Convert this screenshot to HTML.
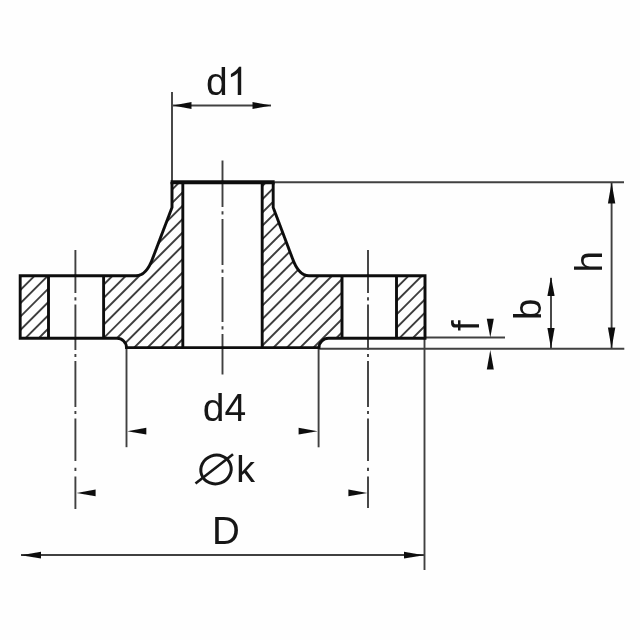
<!DOCTYPE html>
<html><head><meta charset="utf-8"><title>Flange</title>
<style>
html,body{margin:0;padding:0;background:#fefefe;}
body{width:640px;height:640px;overflow:hidden;font-family:"Liberation Sans",sans-serif;}
svg{display:block;}
</style></head><body>
<svg width="640" height="640" viewBox="0 0 640 640">
<defs>
<clipPath id="c1"><path d="M20.2 275.7H48.5V338.3H20.2Z"/></clipPath>
<clipPath id="c2"><path d="M396.5 275.7H425.0V338.3H396.5Z"/></clipPath>
<clipPath id="c3"><path d="M103.6 275.7H136 Q146.5 275.7 152.8 258 L172.0 207.5 V182.0 H182.8 V347.6 H126.5 A9.5 9.5 0 0 0 117 338.3 H103.6Z"/></clipPath>
<clipPath id="c4"><path d="M342.0 275.7H309 Q298.5 275.7 292.3 258 L273.2 207.5 V182.0 H262.2 V347.6 H319 A9.5 9.5 0 0 1 328.5 338.3 H342.0Z"/></clipPath>
<filter id="soft" x="0" y="0" width="640" height="640" filterUnits="userSpaceOnUse"><feGaussianBlur stdDeviation="0.7"/></filter>
</defs>
<rect width="640" height="640" fill="#fefefe"/>
<g filter="url(#soft)">
<path clip-path="url(#c1)" d="M-708.80 700L-8.80 0M-695.50 700L4.50 0M-682.20 700L17.80 0M-668.90 700L31.10 0M-655.60 700L44.40 0M-642.30 700L57.70 0M-629.00 700L71.00 0M-615.70 700L84.30 0M-602.40 700L97.60 0M-589.10 700L110.90 0M-575.80 700L124.20 0M-562.50 700L137.50 0M-549.20 700L150.80 0M-535.90 700L164.10 0M-522.60 700L177.40 0M-509.30 700L190.70 0M-496.00 700L204.00 0M-482.70 700L217.30 0M-469.40 700L230.60 0M-456.10 700L243.90 0M-442.80 700L257.20 0M-429.50 700L270.50 0M-416.20 700L283.80 0M-402.90 700L297.10 0M-389.60 700L310.40 0M-376.30 700L323.70 0M-363.00 700L337.00 0M-349.70 700L350.30 0M-336.40 700L363.60 0M-323.10 700L376.90 0M-309.80 700L390.20 0M-296.50 700L403.50 0M-283.20 700L416.80 0M-269.90 700L430.10 0M-256.60 700L443.40 0M-243.30 700L456.70 0M-230.00 700L470.00 0M-216.70 700L483.30 0M-203.40 700L496.60 0M-190.10 700L509.90 0M-176.80 700L523.20 0M-163.50 700L536.50 0M-150.20 700L549.80 0M-136.90 700L563.10 0M-123.60 700L576.40 0M-110.30 700L589.70 0M-97.00 700L603.00 0M-83.70 700L616.30 0M-70.40 700L629.60 0M-57.10 700L642.90 0M-43.80 700L656.20 0M-30.50 700L669.50 0M-17.20 700L682.80 0M-3.90 700L696.10 0M9.40 700L709.40 0M22.70 700L722.70 0M36.00 700L736.00 0M49.30 700L749.30 0M62.60 700L762.60 0M75.90 700L775.90 0M89.20 700L789.20 0M102.50 700L802.50 0M115.80 700L815.80 0M129.10 700L829.10 0M142.40 700L842.40 0M155.70 700L855.70 0M169.00 700L869.00 0M182.30 700L882.30 0M195.60 700L895.60 0M208.90 700L908.90 0M222.20 700L922.20 0M235.50 700L935.50 0M248.80 700L948.80 0M262.10 700L962.10 0M275.40 700L975.40 0M288.70 700L988.70 0M302.00 700L1002.00 0M315.30 700L1015.30 0M328.60 700L1028.60 0M341.90 700L1041.90 0M355.20 700L1055.20 0M368.50 700L1068.50 0M381.80 700L1081.80 0M395.10 700L1095.10 0M408.40 700L1108.40 0M421.70 700L1121.70 0M435.00 700L1135.00 0M448.30 700L1148.30 0M461.60 700L1161.60 0M474.90 700L1174.90 0M488.20 700L1188.20 0M501.50 700L1201.50 0M514.80 700L1214.80 0M528.10 700L1228.10 0M541.40 700L1241.40 0M554.70 700L1254.70 0M568.00 700L1268.00 0M581.30 700L1281.30 0M594.60 700L1294.60 0" stroke="#3c3c3c" stroke-width="1.9" fill="none"/>
<path clip-path="url(#c3)" d="M-712.15 700L-12.15 0M-698.80 700L1.20 0M-685.45 700L14.55 0M-672.10 700L27.90 0M-658.75 700L41.25 0M-645.40 700L54.60 0M-632.05 700L67.95 0M-618.70 700L81.30 0M-605.35 700L94.65 0M-592.00 700L108.00 0M-578.65 700L121.35 0M-565.30 700L134.70 0M-551.95 700L148.05 0M-538.60 700L161.40 0M-525.25 700L174.75 0M-511.90 700L188.10 0M-498.55 700L201.45 0M-485.20 700L214.80 0M-471.85 700L228.15 0M-458.50 700L241.50 0M-445.15 700L254.85 0M-431.80 700L268.20 0M-418.45 700L281.55 0M-405.10 700L294.90 0M-391.75 700L308.25 0M-378.40 700L321.60 0M-365.05 700L334.95 0M-351.70 700L348.30 0M-338.35 700L361.65 0M-325.00 700L375.00 0M-311.65 700L388.35 0M-298.30 700L401.70 0M-284.95 700L415.05 0M-271.60 700L428.40 0M-258.25 700L441.75 0M-244.90 700L455.10 0M-231.55 700L468.45 0M-218.20 700L481.80 0M-204.85 700L495.15 0M-191.50 700L508.50 0M-178.15 700L521.85 0M-164.80 700L535.20 0M-151.45 700L548.55 0M-138.10 700L561.90 0M-124.75 700L575.25 0M-111.40 700L588.60 0M-98.05 700L601.95 0M-84.70 700L615.30 0M-71.35 700L628.65 0M-58.00 700L642.00 0M-44.65 700L655.35 0M-31.30 700L668.70 0M-17.95 700L682.05 0M-4.60 700L695.40 0M8.75 700L708.75 0M22.10 700L722.10 0M35.45 700L735.45 0M48.80 700L748.80 0M62.15 700L762.15 0M75.50 700L775.50 0M88.85 700L788.85 0M102.20 700L802.20 0M115.55 700L815.55 0M128.90 700L828.90 0M142.25 700L842.25 0M155.60 700L855.60 0M168.95 700L868.95 0M182.30 700L882.30 0M195.65 700L895.65 0M209.00 700L909.00 0M222.35 700L922.35 0M235.70 700L935.70 0M249.05 700L949.05 0M262.40 700L962.40 0M275.75 700L975.75 0M289.10 700L989.10 0M302.45 700L1002.45 0M315.80 700L1015.80 0M329.15 700L1029.15 0M342.50 700L1042.50 0M355.85 700L1055.85 0M369.20 700L1069.20 0M382.55 700L1082.55 0M395.90 700L1095.90 0M409.25 700L1109.25 0M422.60 700L1122.60 0M435.95 700L1135.95 0M449.30 700L1149.30 0M462.65 700L1162.65 0M476.00 700L1176.00 0M489.35 700L1189.35 0M502.70 700L1202.70 0M516.05 700L1216.05 0M529.40 700L1229.40 0M542.75 700L1242.75 0M556.10 700L1256.10 0M569.45 700L1269.45 0M582.80 700L1282.80 0M596.15 700L1296.15 0" stroke="#3c3c3c" stroke-width="1.9" fill="none"/>
<path clip-path="url(#c4)" d="M-703.90 700L-3.90 0M-690.60 700L9.40 0M-677.30 700L22.70 0M-664.00 700L36.00 0M-650.70 700L49.30 0M-637.40 700L62.60 0M-624.10 700L75.90 0M-610.80 700L89.20 0M-597.50 700L102.50 0M-584.20 700L115.80 0M-570.90 700L129.10 0M-557.60 700L142.40 0M-544.30 700L155.70 0M-531.00 700L169.00 0M-517.70 700L182.30 0M-504.40 700L195.60 0M-491.10 700L208.90 0M-477.80 700L222.20 0M-464.50 700L235.50 0M-451.20 700L248.80 0M-437.90 700L262.10 0M-424.60 700L275.40 0M-411.30 700L288.70 0M-398.00 700L302.00 0M-384.70 700L315.30 0M-371.40 700L328.60 0M-358.10 700L341.90 0M-344.80 700L355.20 0M-331.50 700L368.50 0M-318.20 700L381.80 0M-304.90 700L395.10 0M-291.60 700L408.40 0M-278.30 700L421.70 0M-265.00 700L435.00 0M-251.70 700L448.30 0M-238.40 700L461.60 0M-225.10 700L474.90 0M-211.80 700L488.20 0M-198.50 700L501.50 0M-185.20 700L514.80 0M-171.90 700L528.10 0M-158.60 700L541.40 0M-145.30 700L554.70 0M-132.00 700L568.00 0M-118.70 700L581.30 0M-105.40 700L594.60 0M-92.10 700L607.90 0M-78.80 700L621.20 0M-65.50 700L634.50 0M-52.20 700L647.80 0M-38.90 700L661.10 0M-25.60 700L674.40 0M-12.30 700L687.70 0M1.00 700L701.00 0M14.30 700L714.30 0M27.60 700L727.60 0M40.90 700L740.90 0M54.20 700L754.20 0M67.50 700L767.50 0M80.80 700L780.80 0M94.10 700L794.10 0M107.40 700L807.40 0M120.70 700L820.70 0M134.00 700L834.00 0M147.30 700L847.30 0M160.60 700L860.60 0M173.90 700L873.90 0M187.20 700L887.20 0M200.50 700L900.50 0M213.80 700L913.80 0M227.10 700L927.10 0M240.40 700L940.40 0M253.70 700L953.70 0M267.00 700L967.00 0M280.30 700L980.30 0M293.60 700L993.60 0M306.90 700L1006.90 0M320.20 700L1020.20 0M333.50 700L1033.50 0M346.80 700L1046.80 0M360.10 700L1060.10 0M373.40 700L1073.40 0M386.70 700L1086.70 0M400.00 700L1100.00 0M413.30 700L1113.30 0M426.60 700L1126.60 0M439.90 700L1139.90 0M453.20 700L1153.20 0M466.50 700L1166.50 0M479.80 700L1179.80 0M493.10 700L1193.10 0M506.40 700L1206.40 0M519.70 700L1219.70 0M533.00 700L1233.00 0M546.30 700L1246.30 0M559.60 700L1259.60 0M572.90 700L1272.90 0M586.20 700L1286.20 0M599.50 700L1299.50 0" stroke="#3c3c3c" stroke-width="1.9" fill="none"/>
<path clip-path="url(#c2)" d="M-707.20 700L-7.20 0M-693.90 700L6.10 0M-680.60 700L19.40 0M-667.30 700L32.70 0M-654.00 700L46.00 0M-640.70 700L59.30 0M-627.40 700L72.60 0M-614.10 700L85.90 0M-600.80 700L99.20 0M-587.50 700L112.50 0M-574.20 700L125.80 0M-560.90 700L139.10 0M-547.60 700L152.40 0M-534.30 700L165.70 0M-521.00 700L179.00 0M-507.70 700L192.30 0M-494.40 700L205.60 0M-481.10 700L218.90 0M-467.80 700L232.20 0M-454.50 700L245.50 0M-441.20 700L258.80 0M-427.90 700L272.10 0M-414.60 700L285.40 0M-401.30 700L298.70 0M-388.00 700L312.00 0M-374.70 700L325.30 0M-361.40 700L338.60 0M-348.10 700L351.90 0M-334.80 700L365.20 0M-321.50 700L378.50 0M-308.20 700L391.80 0M-294.90 700L405.10 0M-281.60 700L418.40 0M-268.30 700L431.70 0M-255.00 700L445.00 0M-241.70 700L458.30 0M-228.40 700L471.60 0M-215.10 700L484.90 0M-201.80 700L498.20 0M-188.50 700L511.50 0M-175.20 700L524.80 0M-161.90 700L538.10 0M-148.60 700L551.40 0M-135.30 700L564.70 0M-122.00 700L578.00 0M-108.70 700L591.30 0M-95.40 700L604.60 0M-82.10 700L617.90 0M-68.80 700L631.20 0M-55.50 700L644.50 0M-42.20 700L657.80 0M-28.90 700L671.10 0M-15.60 700L684.40 0M-2.30 700L697.70 0M11.00 700L711.00 0M24.30 700L724.30 0M37.60 700L737.60 0M50.90 700L750.90 0M64.20 700L764.20 0M77.50 700L777.50 0M90.80 700L790.80 0M104.10 700L804.10 0M117.40 700L817.40 0M130.70 700L830.70 0M144.00 700L844.00 0M157.30 700L857.30 0M170.60 700L870.60 0M183.90 700L883.90 0M197.20 700L897.20 0M210.50 700L910.50 0M223.80 700L923.80 0M237.10 700L937.10 0M250.40 700L950.40 0M263.70 700L963.70 0M277.00 700L977.00 0M290.30 700L990.30 0M303.60 700L1003.60 0M316.90 700L1016.90 0M330.20 700L1030.20 0M343.50 700L1043.50 0M356.80 700L1056.80 0M370.10 700L1070.10 0M383.40 700L1083.40 0M396.70 700L1096.70 0M410.00 700L1110.00 0M423.30 700L1123.30 0M436.60 700L1136.60 0M449.90 700L1149.90 0M463.20 700L1163.20 0M476.50 700L1176.50 0M489.80 700L1189.80 0M503.10 700L1203.10 0M516.40 700L1216.40 0M529.70 700L1229.70 0M543.00 700L1243.00 0M556.30 700L1256.30 0M569.60 700L1269.60 0M582.90 700L1282.90 0M596.20 700L1296.20 0" stroke="#3c3c3c" stroke-width="1.9" fill="none"/>
<path d="M222.5 160.5V207M222.5 211.3V214.5M222.5 219V265M222.5 269.5V272.7M222.5 277V322M222.5 326.3V329.5M222.5 334V374.5" stroke="#404040" stroke-width="1.9" fill="none"/>
<path d="M75.4 250V293M75.4 297.2V300.4M75.4 304.5V350M75.4 353.9V357.1M75.4 361V407M75.4 410.9V414.1M75.4 418.5V461M75.4 467.8V471M75.4 476.4V509" stroke="#404040" stroke-width="1.9" fill="none"/>
<path d="M368.0 250V293M368.0 297.2V300.4M368.0 304.5V350M368.0 353.9V357.1M368.0 361V407M368.0 410.9V414.1M368.0 418.5V461M368.0 467.8V471M368.0 476.4V508" stroke="#404040" stroke-width="1.9" fill="none"/>
<path d="M172 92L172 182" stroke="#404040" stroke-width="1.9" fill="none"/>
<path d="M173 105.5L271 105.5" stroke="#404040" stroke-width="1.9" fill="none"/>
<path d="M273.2 182.2L624 182.2" stroke="#404040" stroke-width="1.9" fill="none"/>
<path d="M319 348.7L624.3 348.7" stroke="#404040" stroke-width="1.9" fill="none"/>
<path d="M425.0 337.5L505 337.5" stroke="#404040" stroke-width="1.9" fill="none"/>
<path d="M611.6 183L611.6 348" stroke="#404040" stroke-width="1.9" fill="none"/>
<path d="M551 278L551 348" stroke="#404040" stroke-width="1.9" fill="none"/>
<path d="M126.5 348L126.5 447.2" stroke="#404040" stroke-width="1.9" fill="none"/>
<path d="M318.6 348L318.6 447.3" stroke="#404040" stroke-width="1.9" fill="none"/>
<path d="M21 555.0L424 555.0" stroke="#404040" stroke-width="1.9" fill="none"/>
<path d="M424.5 338L424.5 570" stroke="#404040" stroke-width="1.9" fill="none"/>
<path d="M173.00 105.50L191.50 102.10L191.50 108.90Z" fill="#111"/>
<path d="M271.30 105.50L252.50 108.90L252.50 102.10Z" fill="#111"/>
<path d="M127.30 431.20L146.30 427.80L146.30 434.60Z" fill="#111"/>
<path d="M317.60 431.20L298.60 434.60L298.60 427.80Z" fill="#111"/>
<path d="M76.60 492.90L95.60 489.50L95.60 496.30Z" fill="#111"/>
<path d="M367.40 492.90L348.40 496.30L348.40 489.50Z" fill="#111"/>
<path d="M21.00 555.20L41.00 551.80L41.00 558.60Z" fill="#111"/>
<path d="M424.00 555.20L404.00 558.60L404.00 551.80Z" fill="#111"/>
<path d="M611.60 182.50L615.30 203.50L607.90 203.50Z" fill="#111"/>
<path d="M611.60 348.50L607.90 327.50L615.30 327.50Z" fill="#111"/>
<path d="M551.00 276.50L554.60 296.00L547.40 296.00Z" fill="#111"/>
<path d="M551.00 348.50L547.40 328.00L554.60 328.00Z" fill="#111"/>
<path d="M490.30 337.50L486.80 318.70L493.80 318.70Z" fill="#111"/>
<path d="M490.30 350.00L493.80 369.50L486.80 369.50Z" fill="#111"/>
<path d="M136 275.7H20.2V338.3H117 A9.5 9.5 0 0 1 126.5 347.6 H319 A9.5 9.5 0 0 1 328.5 338.3 H425.0 V275.7 H309" stroke="#0c0c0c" stroke-width="2.9" fill="none" stroke-linejoin="miter" stroke-linecap="butt"/>
<path d="M136 275.7 Q146.5 275.7 152.8 258 L172.0 207.5 V182.0" stroke="#0c0c0c" stroke-width="2.9" fill="none" stroke-linejoin="miter" stroke-linecap="butt"/>
<path d="M309 275.7 Q298.5 275.7 292.3 258 L273.2 207.5 V182.0" stroke="#0c0c0c" stroke-width="2.9" fill="none" stroke-linejoin="miter" stroke-linecap="butt"/>
<path d="M170.6 182.2H274.59999999999997" stroke="#0c0c0c" stroke-width="3.9" fill="none" stroke-linejoin="miter" stroke-linecap="butt"/>
<path d="M182.8 182.0V347.6" stroke="#0c0c0c" stroke-width="2.9" fill="none" stroke-linejoin="miter" stroke-linecap="butt"/>
<path d="M262.2 182.0V347.6" stroke="#0c0c0c" stroke-width="2.9" fill="none" stroke-linejoin="miter" stroke-linecap="butt"/>
<path d="M48.5 275.7V338.3" stroke="#0c0c0c" stroke-width="2.9" fill="none" stroke-linejoin="miter" stroke-linecap="butt"/>
<path d="M103.6 275.7V338.3" stroke="#0c0c0c" stroke-width="2.9" fill="none" stroke-linejoin="miter" stroke-linecap="butt"/>
<path d="M342.0 275.7V338.3" stroke="#0c0c0c" stroke-width="2.9" fill="none" stroke-linejoin="miter" stroke-linecap="butt"/>
<path d="M396.5 275.7V338.3" stroke="#0c0c0c" stroke-width="2.9" fill="none" stroke-linejoin="miter" stroke-linecap="butt"/>
<text x="206" y="94.9" font-family="Liberation Sans, sans-serif" font-size="39" fill="#161616" text-anchor="start">d</text>
<path transform="translate(226.67 94.9) scale(0.01904 -0.01904)" fill="#161616" d="M763 0H583V1147Q518 1085 412.5 1023Q307 961 223 930V1104Q374 1175 487 1276Q600 1377 647 1472H763Z"/>
<text x="202.8" y="421" font-family="Liberation Sans, sans-serif" font-size="39" fill="#161616" text-anchor="start">d4</text>
<text x="236.3" y="481.8" font-family="Liberation Sans, sans-serif" font-size="37.5" fill="#161616" text-anchor="start">k</text>
<text x="212" y="544.4" font-family="Liberation Sans, sans-serif" font-size="38.5" fill="#161616" text-anchor="start">D</text>
<text x="601.5" y="272.5" font-family="Liberation Sans, sans-serif" font-size="38.5" fill="#161616" text-anchor="start" transform="rotate(-90 601.5 272.5)">h</text>
<text x="541" y="320" font-family="Liberation Sans, sans-serif" font-size="38.5" fill="#161616" text-anchor="start" transform="rotate(-90 541 320)">b</text>
<text x="479" y="331" font-family="Liberation Sans, sans-serif" font-size="38.5" fill="#161616" text-anchor="start" transform="rotate(-90 479 331)">f</text>
<g stroke="#161616" fill="none"><ellipse cx="216" cy="469.5" rx="15.3" ry="14.3" stroke-width="3" transform="rotate(-20 216 469.5)"/><path d="M195.5 483.5L233 454.3" stroke-width="2.6"/></g>
</g>
</svg>
</body></html>
